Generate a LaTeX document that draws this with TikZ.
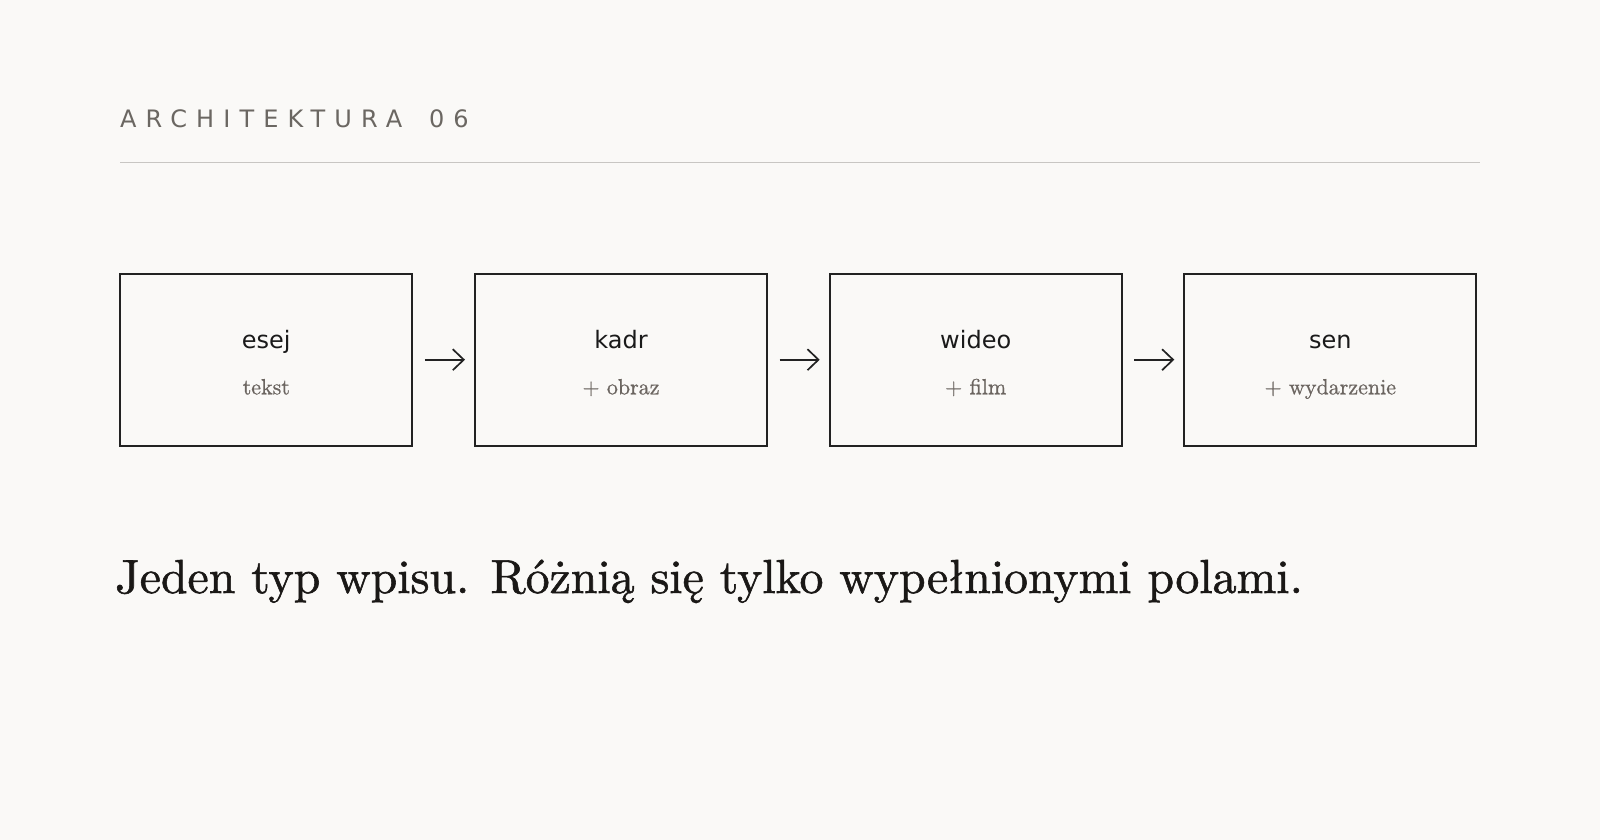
\documentclass[tikz,border=0pt]{standalone}
\usepackage{fontspec}
\usetikzlibrary{arrows.meta}
\newfontfamily\dejavu{DejaVu Sans}
\newfontfamily\headfont[LetterSpace=38]{DejaVu Sans}
\newfontfamily\lmten[Extension=.otf]{lmroman10-regular}
\newfontfamily\lmtenb[Extension=.otf,FakeBold=1.2]{lmroman10-regular}
\newfontfamily\lmtens[Extension=.otf,FakeBold=0.8]{lmroman10-regular}
\definecolor{bgc}{HTML}{FAF9F7}
\definecolor{boxline}{HTML}{222222}
\definecolor{titlec}{HTML}{1A1A1A}
\definecolor{subc}{HTML}{6B6560}
\definecolor{headc}{HTML}{6B6762}
\definecolor{rulec}{HTML}{C8C6C3}
\definecolor{mainc}{HTML}{1A1816}
\tikzset{
  stagebox/.style={draw=boxline, line width=2pt, minimum width=292pt, minimum height=172pt, inner sep=0pt},
  stagetitle/.style={anchor=base, inner sep=0pt, text=titlec, font=\dejavu\fontsize{24}{28}\selectfont},
  stagesub/.style={anchor=base, inner sep=0pt, text=subc, font=\lmtens\fontsize{22}{26}\selectfont},
  flowarrow/.style={draw=boxline, line width=1.7pt, -{Straight Barb[length=11pt,width=21pt]}, shorten <=11.5pt, shorten >=9pt},
}
\begin{document}
\begin{tikzpicture}[x=1pt,y=-1pt]
\fill[bgc] (0,0) rectangle (1600,840);
\useasboundingbox (0,0) rectangle (1600,840);
\node[anchor=base west, inner sep=0pt, text=headc, font=\headfont\fontsize{24}{28}\selectfont] (head) at (120,128) {ARCHITEKTURA\hspace{10pt} 06};
\coordinate (rl) at (120,162.3);
\coordinate (rr) at (1480,162.3);
\draw[rulec, line width=1.3pt] (rl) -- (rr);
\foreach \n/\x/\t/\s in {1/266.3/esej/tekst, 2/621/kadr/+ obraz, 3/975.7/wideo/+ film, 4/1330.3/sen/+ wydarzenie}{
  \node[stagebox] (b\n) at (\x,359.7) {};
  \node[stagetitle] (t\n) at (\x,348) {\t};
  \node[stagesub] (s\n) at (\x,394.3) {\s};
}
\draw[flowarrow] (b1.east) -- (b2.west);
\draw[flowarrow] (b2.east) -- (b3.west);
\draw[flowarrow] (b3.east) -- (b4.west);
\node[anchor=base west, inner sep=0pt, text=mainc, font=\lmtenb\fontsize{47.8}{56}\selectfont] (main) at (115,593) {Jeden typ wpisu. Różnią się tylko wypełnionymi polami.};
\end{tikzpicture}
\end{document}
